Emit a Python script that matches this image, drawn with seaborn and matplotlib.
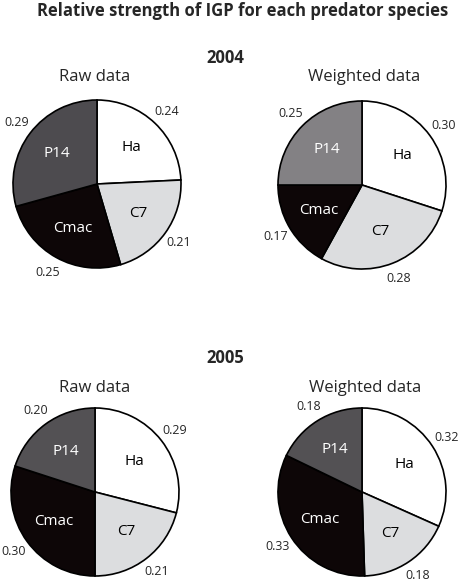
import numpy as np
import matplotlib.pyplot as plt
import seaborn as sns

# Relative strength of IGP (Ha, C7, Cmac, P14)
species = ["Ha", "C7", "Cmac", "P14"]
raw_2004 = [0.24, 0.21, 0.25, 0.29]
weighted_2004 = [0.30, 0.28, 0.17, 0.25]
raw_2005 = [0.29, 0.21, 0.30, 0.20]
weighted_2005 = [0.32, 0.18, 0.33, 0.18]

sns.set_theme(style="white")
plt.rcParams["font.family"] = ["Open Sans", "DejaVu Sans"]

W, H = 468, 584
fig = plt.figure(figsize=(W / 100, H / 100), dpi=100)

name_colors = ["black", "black", "white", "white"]


def px_text(x, y, s, **kw):
    fig.text(x / W, 1 - y / H, s, ha="center", va="baseline", **kw)


def draw_pie(cx, cy, values, p14_color, r=84):
    half = r * 1.02
    ax = fig.add_axes([(cx - half) / W, 1 - (cy + half) / H, 2 * half / W, 2 * half / H])
    colors = ["white", "#dcdddf", "#0d0607", p14_color]
    wedges, _ = ax.pie(
        values,
        colors=colors,
        startangle=90,
        counterclock=False,
        radius=1,
        wedgeprops=dict(edgecolor="black", linewidth=1.2),
    )
    ax.set_xlim(-1.02, 1.02)
    ax.set_ylim(-1.02, 1.02)
    ax.axis("off")

    for w, v, name, tc in zip(wedges, values, species, name_colors):
        mid = np.deg2rad((w.theta1 + w.theta2) / 2)
        ax.text(0.6 * np.cos(mid), 0.6 * np.sin(mid), name, color=tc,
                fontsize=11, ha="center", va="center")
        ax.text(1.2 * np.cos(mid), 1.2 * np.sin(mid), f"{v:.2f}",
                fontsize=9, ha="center", va="center", clip_on=False)


px_text(243, 16, "Relative strength of IGP for each predator species",
        fontsize=12, fontweight="bold")

px_text(225, 63, "2004", fontsize=12, fontweight="bold")
px_text(95, 81, "Raw data", fontsize=12)
px_text(364, 81, "Weighted data", fontsize=12)
draw_pie(97, 184, raw_2004, "#4d4b4f")
draw_pie(362, 185, weighted_2004, "#838184")

px_text(225, 363, "2005", fontsize=12, fontweight="bold")
px_text(95, 392, "Raw data", fontsize=12)
px_text(365, 392, "Weighted data", fontsize=12)
draw_pie(95, 492, raw_2005, "#535154")
draw_pie(362, 492, weighted_2005, "#535154")

plt.savefig("out.png", dpi=100)
